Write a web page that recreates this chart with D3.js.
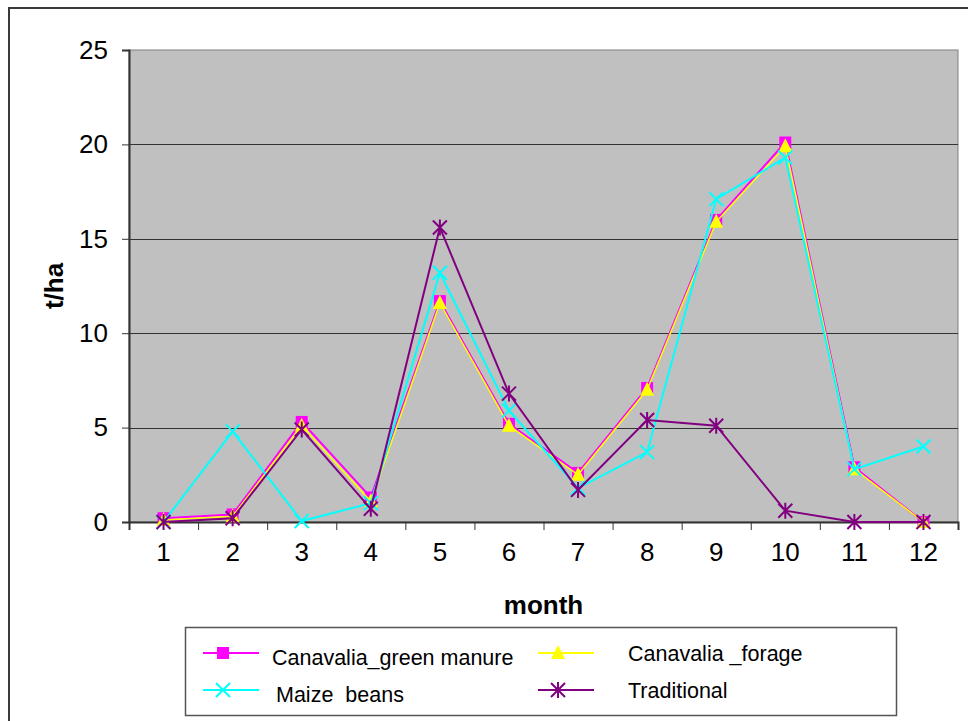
<!DOCTYPE html>
<html>
<head>
<meta charset="utf-8">
<script src="https://cdn.jsdelivr.net/npm/d3@7"></script>
<style>
    body { margin: 0; background: #fff; }
    svg { display: block; font-family: Arial, "Liberation Sans", sans-serif; }
</style>
</head>
<body>
<div id="chart"></div>
<script>
// months on the x axis
var months = [1, 2, 3, 4, 5, 6, 7, 8, 9, 10, 11, 12];
var yTicks = [0, 5, 10, 15, 20, 25];

// t/ha per month
var greenManure = [0.2, 0.4, 5.3, 1.3, 11.7, 5.2, 2.6, 7.1, 16.0, 20.1, 2.9, 0];
var forage      = [0.1, 0.3, 5.1, 1.1, 11.6, 5.1, 2.5, 7.0, 15.9, 19.9, 2.8, 0];
var maizeBeans  = [0, 4.8, 0.05, 1.0, 13.2, 5.9, 1.8, 3.7, 17.1, 19.3, 2.8, 4.0];
var traditional = [0, 0.2, 4.9, 0.7, 15.6, 6.8, 1.7, 5.4, 5.1, 0.6, 0, 0];

(function () {
    var W = 968, H = 721;
    var left = 129, right = 958, top = 50, bottom = 522;

    var svg = d3.select("#chart").append("svg")
        .attr("width", W)
        .attr("height", H);

    // outer chart border (runs off the right/bottom of the picture)
    svg.append("rect")
        .attr("x", 9).attr("y", 8)
        .attr("width", W).attr("height", H)
        .attr("fill", "#fff")
        .attr("stroke", "#3a3a3a")
        .attr("stroke-width", 2);

    var x = d3.scaleBand().domain(months).range([left, right]);
    var xb = d3.scaleLinear().domain([0, 12]).range([left, right]);
    var y = d3.scaleLinear().domain([0, 25]).range([bottom, top]);

    // plot area
    svg.append("rect")
        .attr("x", left).attr("y", top)
        .attr("width", right - left).attr("height", bottom - top)
        .attr("fill", "#c0c0c0")
        .attr("stroke", "#808080")
        .attr("stroke-width", 1);

    // grid
    svg.append("g").selectAll("line")
        .data(yTicks.filter(function (d) { return d > 0 && d < 25; }))
        .enter().append("line")
        .attr("x1", left).attr("x2", right)
        .attr("y1", function (d) { return Math.round(y(d)) + 0.5; })
        .attr("y2", function (d) { return Math.round(y(d)) + 0.5; })
        .attr("stroke", "#333")
        .attr("stroke-width", 1);

    // y axis
    var yAxis = svg.append("g")
        .attr("transform", "translate(" + left + ",0)")
        .call(d3.axisLeft(y).tickValues(yTicks).tickSize(7).tickPadding(14));
    yAxis.select(".domain").attr("stroke", "#333").attr("stroke-width", 2);
    yAxis.selectAll(".tick line").attr("stroke", "#333");
    yAxis.selectAll("text").attr("font-size", 26).attr("fill", "#000");

    // x axis: ticks on category boundaries, labels in the middle
    var xAxis = svg.append("g")
        .attr("transform", "translate(0," + bottom + ")")
        .call(d3.axisBottom(xb).ticks(12).tickSize(8).tickFormat(""));
    xAxis.select(".domain").attr("stroke", "#333").attr("stroke-width", 2);
    xAxis.selectAll(".tick line").attr("stroke", "#333");

    var xLabels = svg.append("g")
        .attr("transform", "translate(0," + bottom + ")")
        .call(d3.axisBottom(x).tickSize(0).tickPadding(21));
    xLabels.select(".domain").remove();
    xLabels.selectAll("text").attr("font-size", 26).attr("fill", "#000");

    // axis titles
    svg.append("text")
        .attr("x", (left + right) / 2)
        .attr("y", 614)
        .attr("text-anchor", "middle")
        .attr("font-size", 26)
        .attr("font-weight", "bold")
        .text("month");

    svg.append("text")
        .attr("transform", "translate(63," + ((top + bottom) / 2) + ") rotate(-90)")
        .attr("text-anchor", "middle")
        .attr("font-size", 26)
        .attr("font-weight", "bold")
        .text("t/ha");

    // marker drawing
    var drawMarker = function (g, kind, color) {
        if (kind === "square") {
            g.append("rect").attr("x", -6).attr("y", -6).attr("width", 12).attr("height", 12)
                .attr("fill", color);
        } else if (kind === "triangle") {
            g.append("path").attr("d", "M0,-8L7,6L-7,6Z").attr("fill", color);
        } else if (kind === "x") {
            g.append("path").attr("d", "M-7,-7L7,7M-7,7L7,-7")
                .attr("stroke", color).attr("stroke-width", 2).attr("fill", "none");
        } else if (kind === "star") {
            g.append("path").attr("d", "M-7,-7L7,7M-7,7L7,-7M0,-8L0,8")
                .attr("stroke", color).attr("stroke-width", 2).attr("fill", "none");
        }
    };

    var series = [
        {name: "Canavalia_green manure", values: greenManure, color: "#ff00ff", marker: "square", width: 2},
        {name: "Canavalia _forage", values: forage, color: "#ffff00", marker: "triangle", width: 1.5},
        {name: "Maize  beans", values: maizeBeans, color: "#00ffff", marker: "x", width: 2},
        {name: "Traditional", values: traditional, color: "#800080", marker: "star", width: 2}
    ];

    var line = d3.line()
        .x(function (d, i) { return x(months[i]) + x.bandwidth() / 2; })
        .y(function (d) { return y(d); });

    series.forEach(function (s) {
        var g = svg.append("g");
        g.append("path")
            .attr("d", line(s.values))
            .attr("fill", "none")
            .attr("stroke", s.color)
            .attr("stroke-width", s.width);
        s.values.forEach(function (v, i) {
            var m = g.append("g")
                .attr("transform", "translate(" + (x(months[i]) + x.bandwidth() / 2) + "," + y(v) + ")");
            drawMarker(m, s.marker, s.color);
        });
    });

    // legend
    svg.append("rect")
        .attr("x", 185.5).attr("y", 627.5)
        .attr("width", 711).attr("height", 88)
        .attr("fill", "#fff")
        .attr("stroke", "#555")
        .attr("stroke-width", 1.5);

    var legendPos = [
        {lx: 203, ly: 653, tx: 272, ty: 665},
        {lx: 538, ly: 653, tx: 628, ty: 661},
        {lx: 203, ly: 690, tx: 276, ty: 702},
        {lx: 538, ly: 690, tx: 628, ty: 698}
    ];

    series.forEach(function (s, i) {
        var p = legendPos[i];
        var g = svg.append("g");
        g.append("line")
            .attr("x1", p.lx).attr("x2", p.lx + 56)
            .attr("y1", p.ly).attr("y2", p.ly)
            .attr("stroke", s.color).attr("stroke-width", 2);
        drawMarker(g.append("g").attr("transform", "translate(" + (p.lx + 20) + "," + p.ly + ")"), s.marker, s.color);
        g.append("text")
            .attr("x", p.tx).attr("y", p.ty)
            .attr("font-size", 21.5)
            .style("white-space", "pre")
            .text(s.name);
    });
})();
</script>
</body>
</html>
